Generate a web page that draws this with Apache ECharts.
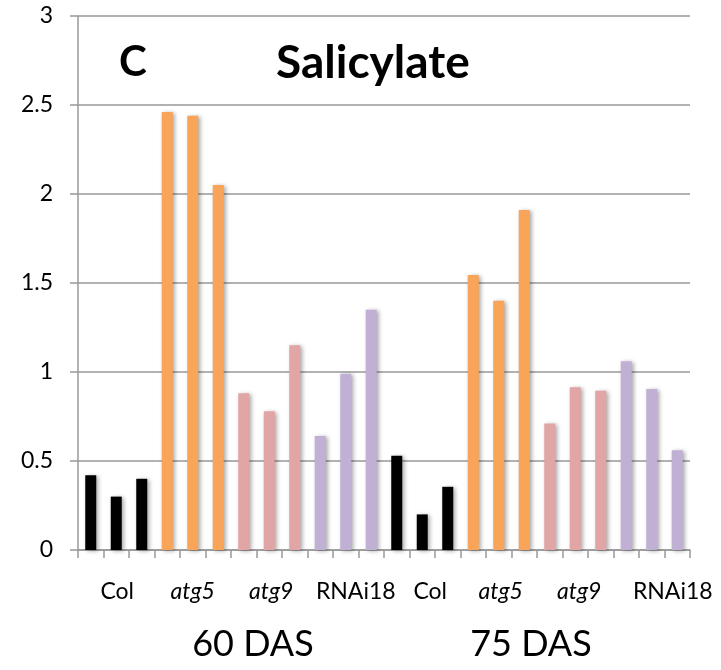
<!DOCTYPE html>
<html>
<head>
<meta charset="utf-8">
<script src="https://cdn.jsdelivr.net/npm/echarts@6/dist/echarts.min.js"></script>
<style>html,body{margin:0;padding:0;background:#fff}#c{width:721px;height:670px}</style>
</head>
<body>
<div id="c"></div>
<script>
// ---- data ----
const genotypes = ['Col', 'atg5', 'atg9', 'RNAi18'];
const stages = ['60 DAS', '75 DAS'];
const col60    = [0.42, 0.30, 0.40];
const atg5_60  = [2.46, 2.44, 2.05];
const atg9_60  = [0.88, 0.78, 1.15];
const rnai_60  = [0.64, 0.99, 1.35];
const col75    = [0.53, 0.20, 0.355];
const atg5_75  = [1.545, 1.40, 1.91];
const atg9_75  = [0.71, 0.915, 0.895];
const rnai_75  = [1.06, 0.905, 0.56];
const yTicks = [0, 0.5, 1, 1.5, 2, 2.5, 3];

// ---- build ----
const FONT = 'Lato';
const colors = { 'Col': '#000000', 'atg5': '#F8A55A', 'atg9': '#E2A5A5', 'RNAi18': '#C0B0D3' };
const groups = [
  ['Col', col60], ['atg5', atg5_60], ['atg9', atg9_60], ['RNAi18', rnai_60],
  ['Col', col75], ['atg5', atg5_75], ['atg9', atg9_75], ['RNAi18', rnai_75]
];
// small horizontal nudges of genotype labels (px), matching the original's label placement
const labelNudge = [1, 0, 2, 10, 8, 2, 4, 21];
const cats = [], data = [];
groups.forEach(([g, vals], gi) => {
  vals.forEach((v, i) => {
    if (i === 1) {
      cats.push({
        value: g,
        textStyle: {
          fontStyle: (g === 'atg5' || g === 'atg9') ? 'italic' : 'normal',
          padding: [0, 0, 0, 2 * labelNudge[gi]]
        }
      });
    } else {
      cats.push({ value: '' });
    }
    data.push({ value: v, itemStyle: { color: colors[g] } });
  });
});

const chart = echarts.init(document.getElementById('c'), null, { renderer: 'canvas' });
chart.setOption({
  animation: false,
  backgroundColor: '#ffffff',
  title: [
    { text: 'C', left: 114, top: 36, textStyle: { fontFamily: FONT, fontSize: 42, fontWeight: 'bold', color: '#000' } },
    { text: 'Salicylate', left: 271, top: 35, textStyle: { fontFamily: FONT, fontSize: 46, fontWeight: 'bold', color: '#000' } },
    { text: stages[0], left: 248, top: 621, textAlign: 'center', textStyle: { fontFamily: FONT, fontSize: 36, fontWeight: 'normal', color: '#000' } },
    { text: stages[1], left: 526, top: 621, textAlign: 'center', textStyle: { fontFamily: FONT, fontSize: 36, fontWeight: 'normal', color: '#000' } }
  ],
  grid: { left: 78, right: 31, top: 16, bottom: 120, containLabel: false },
  xAxis: {
    type: 'category',
    data: cats,
    boundaryGap: true,
    axisLine: { show: true, lineStyle: { color: '#999', width: 1.5 } },
    axisTick: { show: true, interval: 0, length: 8, lineStyle: { color: '#999', width: 1.5 } },
    axisLabel: { interval: 0, margin: 30, fontFamily: FONT, fontSize: 23, color: '#000', backgroundColor: 'rgba(255,255,255,0)' },
    splitLine: { show: false }
  },
  yAxis: {
    type: 'value',
    min: 0, max: 3, interval: 0.5,
    axisLine: { show: true, lineStyle: { color: '#999', width: 1.5 } },
    axisTick: { show: true, length: 8, lineStyle: { color: '#999', width: 1.5 } },
    axisLabel: {
      margin: 25, fontFamily: FONT, fontSize: 23, color: '#000', backgroundColor: 'rgba(255,255,255,0)',
      formatter: v => String(yTicks.find(t => Math.abs(t - v) < 1e-9) ?? v)
    },
    splitLine: { show: true, lineStyle: { color: '#999', width: 1.5 } }
  },
  series: [{
    type: 'bar',
    data: data,
    barWidth: 11,
    itemStyle: {
      shadowColor: 'rgba(0,0,0,0.35)',
      shadowBlur: 4,
      shadowOffsetX: 2,
      shadowOffsetY: 1
    }
  }]
});
</script>
</body>
</html>
